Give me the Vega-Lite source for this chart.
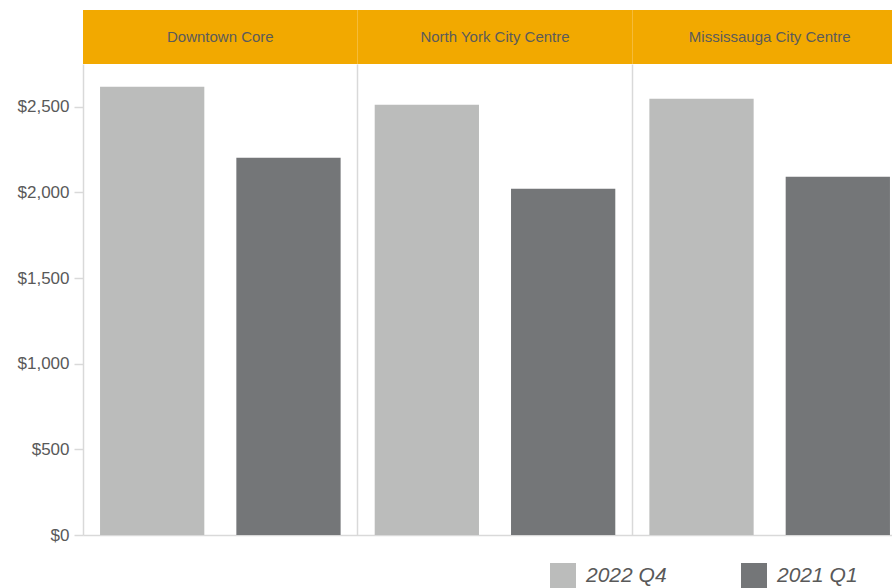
{
  "$schema": "https://vega.github.io/schema/vega-lite/v6.json",
  "padding": {"left": 17, "top": 10, "right": 0, "bottom": 0},
  "bounds": "flush",
  "spacing": 0,
  "config": {"view": {"stroke": null}, "font": "Liberation Sans"},
  "datasets": {
    "panels": [
      {"city": "Downtown Core"},
      {"city": "North York City Centre"},
      {"city": "Mississauga City Centre"}
    ],
    "rents": [
      {"city": "Downtown Core", "period": "2022 Q4", "value": 2617},
      {"city": "Downtown Core", "period": "2021 Q1", "value": 2202},
      {"city": "North York City Centre", "period": "2022 Q4", "value": 2512},
      {"city": "North York City Centre", "period": "2021 Q1", "value": 2021},
      {"city": "Mississauga City Centre", "period": "2022 Q4", "value": 2547},
      {"city": "Mississauga City Centre", "period": "2021 Q1", "value": 2091}
    ]
  },
  "vconcat": [
    {
      "width": 824,
      "height": 54,
      "data": {"name": "panels"},
      "layer": [
        {
          "mark": {"type": "rect", "color": "#F2A900"},
          "encoding": {
            "x": {"field": "city", "type": "nominal", "sort": ["Downtown Core", "North York City Centre", "Mississauga City Centre"], "scale": {"paddingInner": 0, "paddingOuter": 0}, "axis": null}
          }
        },
        {
          "mark": {"type": "text", "fontSize": 15, "color": "#5b5b5b"},
          "encoding": {
            "x": {"field": "city", "type": "nominal", "sort": ["Downtown Core", "North York City Centre", "Mississauga City Centre"], "scale": {"paddingInner": 0, "paddingOuter": 0}, "axis": null},
            "text": {"field": "city"}
          }
        }
      ]
    },
    {
      "width": 824,
      "height": 471,
      "data": {"name": "rents"},
      "mark": {"type": "bar"},
      "encoding": {
        "x": {"field": "city", "type": "nominal", "sort": ["Downtown Core", "North York City Centre", "Mississauga City Centre"], "scale": {"paddingInner": 0, "paddingOuter": 0},
          "axis": {"title": null, "labels": false, "ticks": false, "domain": true, "domainColor": "#d9d9d9", "domainWidth": 1.5, "grid": true, "gridColor": "#d9d9d9", "gridWidth": 1.5, "bandPosition": 0}},
        "xOffset": {"field": "period", "type": "nominal", "sort": ["2022 Q4", "2021 Q1"], "scale": {"paddingInner": 0.235, "paddingOuter": 0.125}},
        "y": {"field": "value", "type": "quantitative", "scale": {"domain": [0, 2750], "nice": false},
          "axis": {"title": null, "format": "$,.0f", "values": [0, 500, 1000, 1500, 2000, 2500], "grid": false, "domain": false, "tickColor": "#d9d9d9", "tickSize": 9, "tickWidth": 1.5, "labelFontSize": 17, "labelColor": "#595959", "labelPadding": 5}},
        "color": {"field": "period", "type": "nominal", "scale": {"domain": ["2022 Q4", "2021 Q1"], "range": ["#BBBCBB", "#747678"]},
          "legend": {"title": null, "orient": "none", "legendX": 467, "legendY": 553, "direction": "horizontal", "symbolType": "square", "symbolSize": 676, "symbolStrokeWidth": 0, "labelFontSize": 21, "labelFontStyle": "italic", "labelColor": "#595959", "labelOffset": 10, "columnPadding": 74}}
      }
    }
  ]
}
